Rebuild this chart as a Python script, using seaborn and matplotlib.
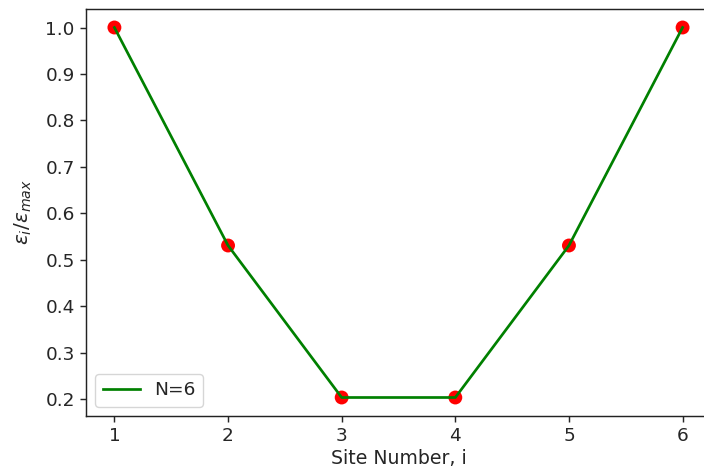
import matplotlib
matplotlib.use("Agg")
import matplotlib.pyplot as plt
import seaborn as sns
import pandas as pd

# Normalised on-site energies along a chain of N=6 sites
sites = [1, 2, 3, 4, 5, 6]
ratio = [1.0, 0.531, 0.204, 0.204, 0.531, 1.0]
series_label = "N=6"

df = pd.DataFrame({"site": sites, "ratio": ratio})

scale = 1.3
plt.rcParams.update({
    "font.family": "DejaVu Sans",
    "font.size": 13.3,
    "text.color": "#262626",
    "axes.labelcolor": "#262626",
    "axes.linewidth": 0.8 * scale,
    "axes.edgecolor": "#222222",
    "xtick.major.size": 3.5 * scale,
    "ytick.major.size": 3.5 * scale,
    "xtick.major.width": 0.8 * scale,
    "ytick.major.width": 0.8 * scale,
    "xtick.color": "#262626",
    "ytick.color": "#262626",
    "mathtext.fontset": "dejavusans",
})

fig = plt.figure(figsize=(7.04, 4.74), dpi=100)
ax = fig.add_axes([86 / 704, 58 / 474, 625 / 704, 407 / 474])

sns.scatterplot(data=df, x="site", y="ratio", ax=ax, color="red", s=100,
                edgecolor="none", zorder=2, legend=False)
sns.lineplot(data=df, x="site", y="ratio", ax=ax, color="green",
             linewidth=1.5 * scale, label=series_label, zorder=3)

ax.set_xlabel("Site Number, i", fontsize=13.6, labelpad=3)
ax.set_ylabel(r"$\varepsilon_i/\varepsilon_{max}$", fontsize=14.5, labelpad=8)
ax.margins(0.05)
ax.legend(loc="lower left", fontsize=13.3)

fig.savefig("out.png", dpi=100)
